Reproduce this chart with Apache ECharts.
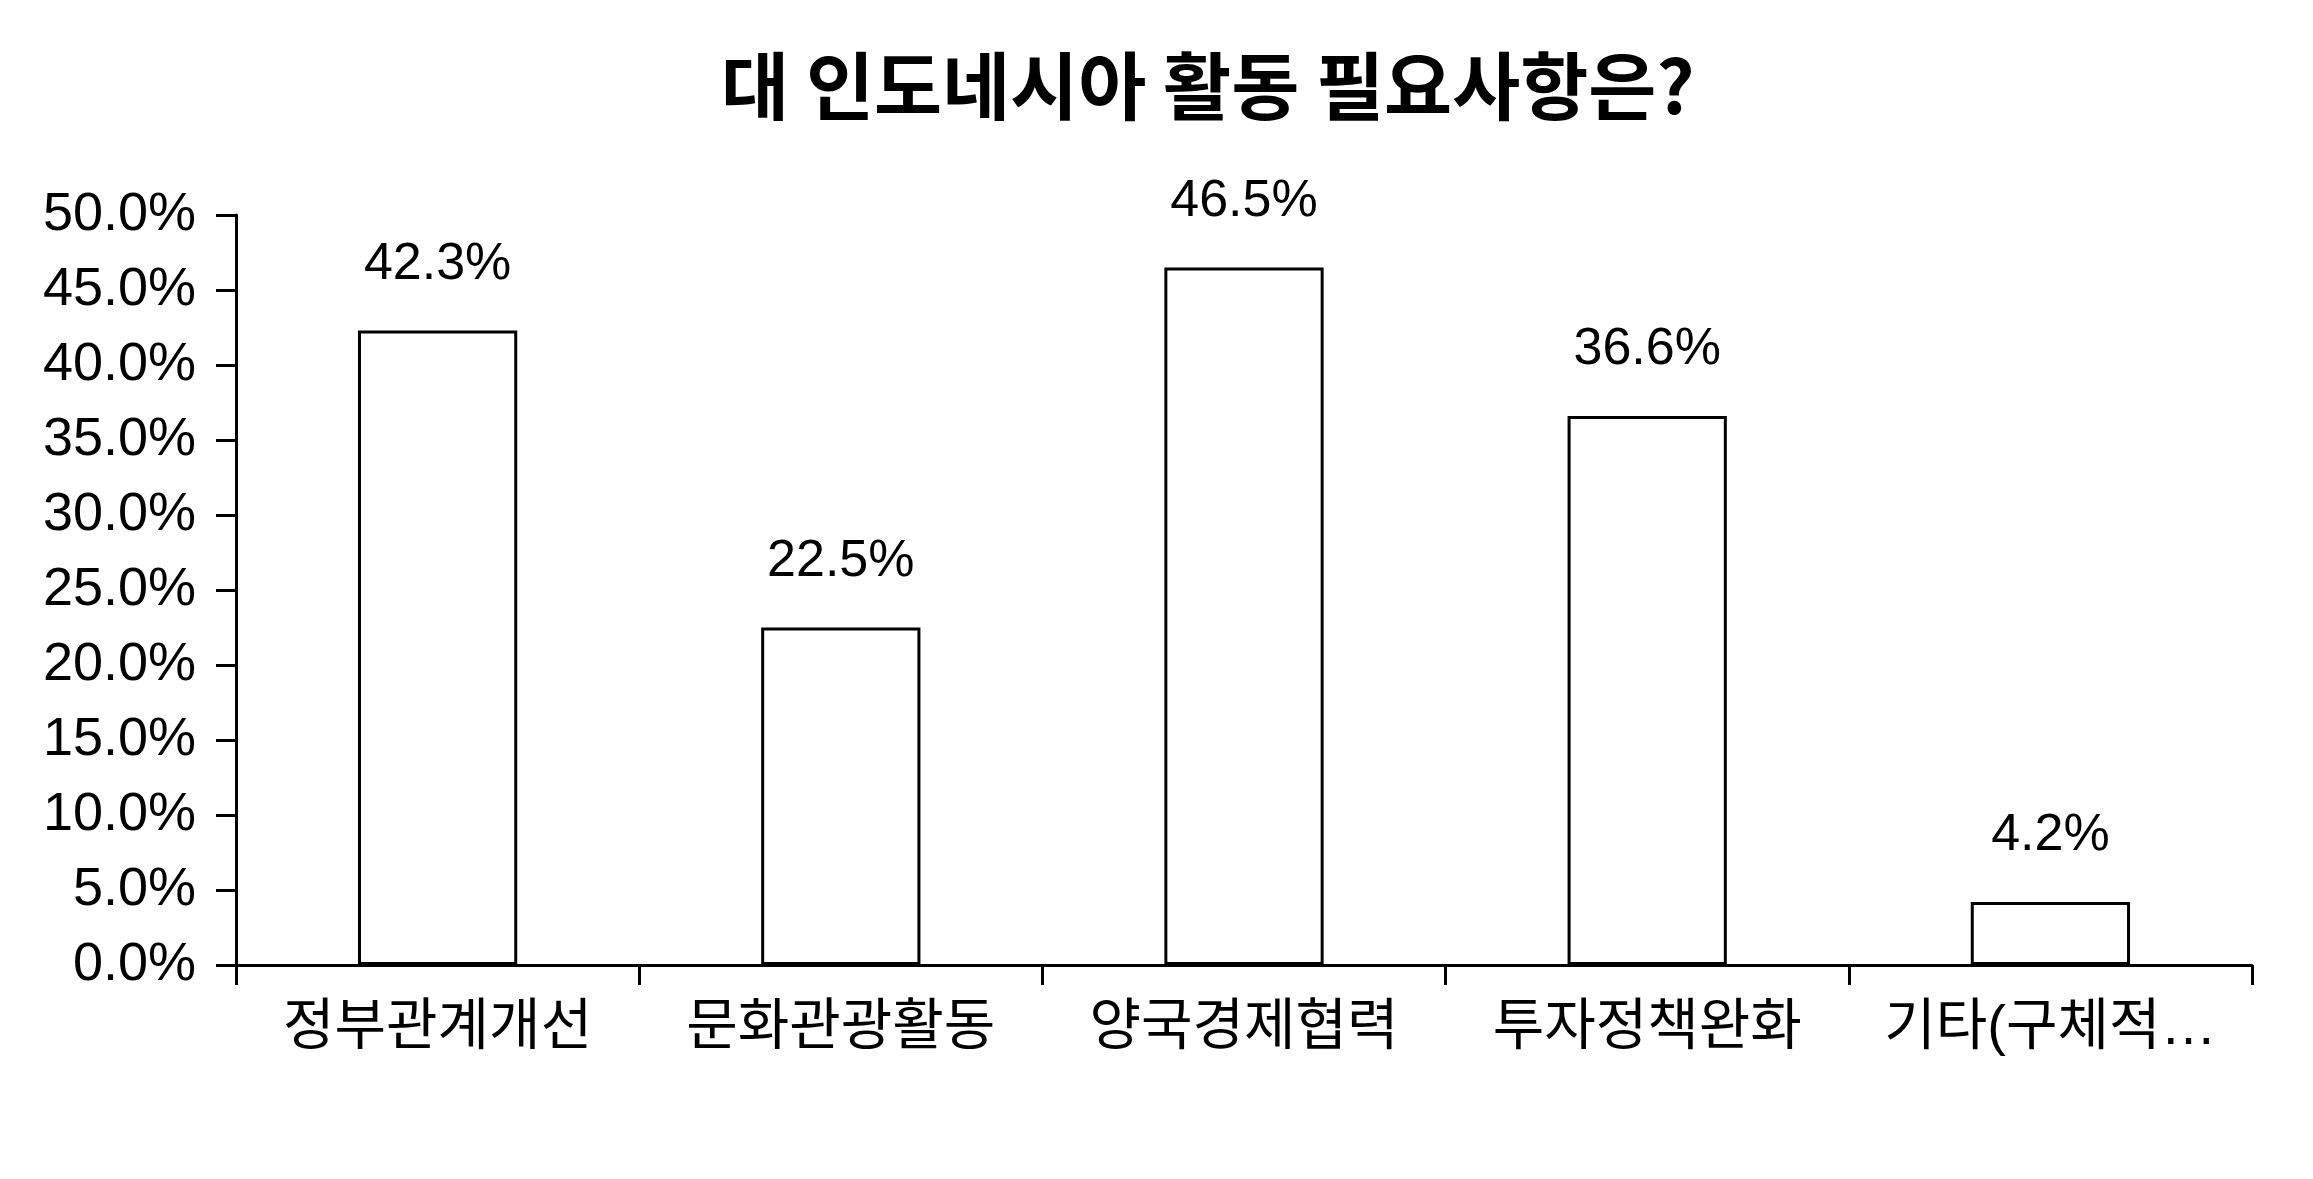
<!DOCTYPE html>
<html>
<head>
<meta charset="utf-8">
<title>대 인도네시아 활동 필요사항은?</title>
<script src="https://cdn.jsdelivr.net/npm/echarts@6/dist/echarts.min.js"></script>
<style>
  html, body { margin: 0; padding: 0; background: #fff; }
  #chart { width: 2313px; height: 1179px; }
</style>
</head>
<body>
<div id="chart"></div>
<script>
// data
const categories = ['정부관계개선', '문화관광활동', '양국경제협력', '투자정책완화', '기타(구체적…']
const shares = [42.3, 22.5, 46.5, 36.6, 4.2]
const yTicks = { min: 0, max: 50, step: 5 }

const font = "'Liberation Sans', 'Noto Sans CJK KR', sans-serif"

const chart = echarts.init(document.getElementById('chart'))

const option = {
  backgroundColor: '#fff',
  animation: false,
  title: {
    text: '대 인도네시아 활동 필요사항은?',
    // the title sits a bit right of the page centre in the original
    left: 716,
    top: 44,
    textStyle: {
      fontFamily: "'Noto Sans CJK KR', sans-serif",
      fontSize: 74,
      fontWeight: 'bold',
      color: '#000'
    }
  },
  grid: {
    left: 236,
    right: 61,
    top: 215,
    bottom: 214
  },
  xAxis: {
    type: 'category',
    data: categories,
    boundaryGap: true,
    axisLine: { lineStyle: { color: '#000', width: 3 } },
    axisTick: { show: true, length: 20, lineStyle: { color: '#000', width: 3 } },
    axisLabel: {
      color: '#000',
      fontFamily: font,
      fontSize: 56,
      margin: 36,
      interval: 0
    },
    splitLine: { show: false }
  },
  yAxis: {
    type: 'value',
    min: yTicks.min,
    max: yTicks.max,
    interval: yTicks.step,
    axisLine: { show: true, lineStyle: { color: '#000', width: 3 } },
    axisTick: { show: true, length: 20, lineStyle: { color: '#000', width: 3 } },
    axisLabel: {
      color: '#000',
      fontFamily: font,
      fontSize: 54,
      margin: 40,
      formatter: (v) => v.toFixed(1) + '%'
    },
    splitLine: { show: false }
  },
  series: [
    {
      type: 'bar',
      data: shares,
      barWidth: '39.5%',
      itemStyle: {
        color: '#fff',
        borderColor: '#000',
        borderWidth: 3
      },
      label: {
        show: true,
        position: 'top',
        distance: 40,
        color: '#000',
        fontFamily: font,
        fontSize: 52,
        formatter: (p) => p.value.toFixed(1) + '%'
      }
    }
  ]
}

chart.setOption(option)
</script>
</body>
</html>
